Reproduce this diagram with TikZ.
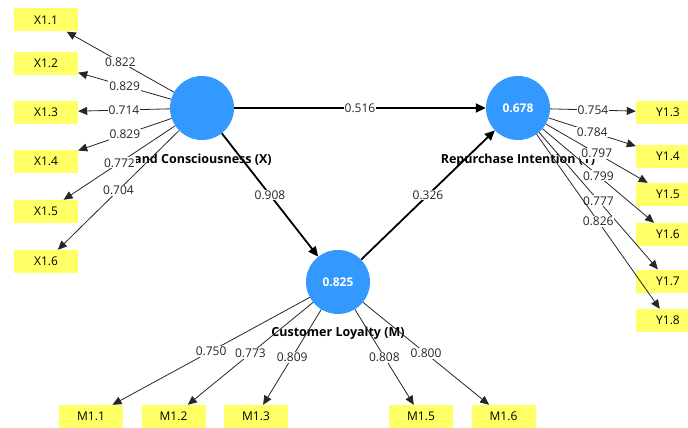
\documentclass[tikz,border=0pt]{standalone}
\usepackage{fontspec}
\setmainfont{Open Sans}
\usetikzlibrary{arrows.meta}
\definecolor{latentblue}{RGB}{51,153,255}
\definecolor{indyellow}{RGB}{255,255,102}
\begin{document}
\begin{tikzpicture}[x=1pt,y=-1pt,
  latent/.style={circle, fill=latentblue, minimum size=64pt, inner sep=0pt,
    text=white, font=\bfseries\fontsize{12}{14}\selectfont},
  indicator/.style={rectangle, fill=indyellow, minimum width=64pt,
    minimum height=23pt, inner sep=0pt, font=\fontsize{12}{14}\selectfont},
  loading/.style={draw=black!85, line width=0.8pt,
    -{Triangle[length=9pt,width=8pt]}},
  structural/.style={draw=black, line width=1.8pt,
    -{Triangle[length=10pt,width=9pt]}},
  coef/.style={fill=white, inner sep=1pt, text=black!85,
    font=\fontsize{12}{14}\selectfont},
  lvname/.style={inner sep=0pt, text=black, font=\bfseries\fontsize{12.5}{14}\selectfont}
]
\clip (0,0) rectangle (688,428);

% latent variables
\node[latent] (X) at (202,108) {};
\node[latent] (Y) at (518,108) {0.678};
\node[latent] (M) at (338,282) {0.825};

% latent variable names (drawn below the connectors)
\node[lvname, anchor=west] (Xname) at (134,160) {and Consciousness (X)};
\node[lvname] (Yname) at (518,160) {Repurchase Intention (Y)};
\node[lvname] (Mname) at (338,333) {Customer Loyalty (M)};

% indicators of X
\node[indicator] (x11) at (46,20)    {X1.1};
\node[indicator] (x12) at (46,63.5)  {X1.2};
\node[indicator] (x13) at (46,112)   {X1.3};
\node[indicator] (x14) at (46,161.5) {X1.4};
\node[indicator] (x15) at (46,211.5) {X1.5};
\node[indicator] (x16) at (46,261.5) {X1.6};

% indicators of Y
\node[indicator] (y13) at (668,112)   {Y1.3};
\node[indicator] (y14) at (668,156.5) {Y1.4};
\node[indicator] (y15) at (668,194.5) {Y1.5};
\node[indicator] (y16) at (668,234.5) {Y1.6};
\node[indicator] (y17) at (668,281)   {Y1.7};
\node[indicator] (y18) at (668,320.5) {Y1.8};

% indicators of M
\node[indicator] (m11) at (91,416.5)  {M1.1};
\node[indicator] (m12) at (173.5,416.5) {M1.2};
\node[indicator] (m13) at (256,416.5) {M1.3};
\node[indicator] (m15) at (421,416.5) {M1.5};
\node[indicator] (m16) at (503.5,416.5) {M1.6};

% outer loadings
\draw[loading] (X) -- node[coef] {0.822} (x11);
\draw[loading] (X) -- node[coef] {0.829} (x12);
\draw[loading] (X) -- node[coef] {0.714} (x13);
\draw[loading] (X) -- node[coef] {0.829} (x14);
\draw[loading] (X) -- node[coef] {0.772} (x15);
\draw[loading] (X) -- node[coef] {0.704} (x16);

\draw[loading] (Y) -- node[coef] {0.754} (y13);
\draw[loading] (Y) -- node[coef] {0.784} (y14);
\draw[loading] (Y) -- node[coef] {0.797} (y15);
\draw[loading] (Y) -- node[coef] {0.799} (y16);
\draw[loading] (Y) -- node[coef] {0.777} (y17);
\draw[loading] (Y) -- node[coef] {0.826} (y18);

\draw[loading] (M) -- node[coef] {0.750} (m11);
\draw[loading] (M) -- node[coef] {0.773} (m12);
\draw[loading] (M) -- node[coef] {0.809} (m13);
\draw[loading] (M) -- node[coef] {0.808} (m15);
\draw[loading] (M) -- node[coef] {0.800} (m16);

% path coefficients
\draw[structural] (X) -- node[coef] {0.516} (Y);
\draw[structural] (X) -- node[coef] {0.908} (M);
\draw[structural] (M) -- node[coef] {0.326} (Y);
\end{tikzpicture}
\end{document}
